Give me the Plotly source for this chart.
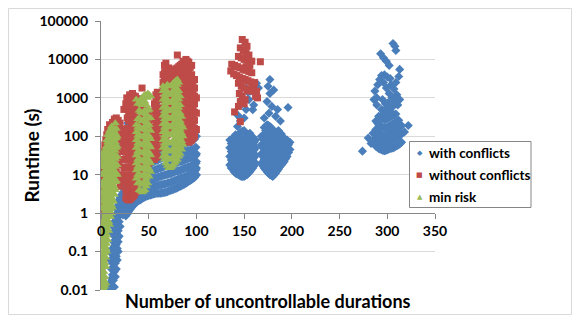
import plotly.graph_objects as go

# ---------------- data ----------------
# each entry: (number of uncontrollable durations, [runtimes in s at that x])
with_conflicts = [
    (8, [0.010, 0.013]), (10, [0.011, 0.016, 0.06]), (11, [0.02, 0.035, 0.09]),
    (12, [0.013, 0.025, 0.05, 0.12, 0.3]), (13, [0.018, 0.04, 0.08, 0.18, 0.45]),
    (14, [0.012, 0.03, 0.065, 0.14, 0.25, 0.6]), (15, [0.022, 0.05, 0.1, 0.2, 0.4, 0.9]),
    (16, [0.035, 0.075, 0.15, 0.3, 0.7, 1.3]), (17, [0.06, 0.12, 0.22, 0.5, 1.0]),
    (18, [0.1, 0.18, 0.35, 0.8, 1.6]), (19, [0.25, 0.6, 1.2, 2.2]), (20, [0.45, 0.9]),
    (20, [1.0, 1.6, 2.6]), (23, [0.9, 1.4, 2.2, 3.5]), (26, [0.85, 1.3, 2.0, 3.2, 5]),
    (29, [1.1, 1.7, 2.7, 4.3, 6.5]), (32, [1.4, 2.2, 3.4, 5.4, 8]),
    (35, [1.7, 2.6, 4.0, 6.3, 9.5]), (38, [2.0, 3.0, 4.6, 7, 11]),
    (41, [2.2, 3.4, 5.2, 8, 12.5]), (44, [2.5, 3.8, 5.8, 9, 14]),
    (47, [2.7, 4.1, 6.3, 10, 16]), (50, [2.9, 4.4, 7, 11, 18]),
    (53, [3.0, 4.7, 7.5, 12, 20]), (56, [3.2, 5.0, 8, 13, 22, 30]),
    (59, [3.3, 5.2, 8.5, 14, 24, 35]), (62, [3.3, 5.4, 9, 15, 26, 42]),
    (65, [3.4, 5.6, 9.5, 16, 28, 48]), (68, [3.5, 5.8, 10, 17, 30, 52]),
    (71, [3.8, 6.2, 10.5, 18, 32, 55]), (74, [4.0, 6.5, 11, 19, 33, 55]),
    (77, [4.3, 7, 12, 20, 35, 58]), (80, [4.6, 7.5, 12.5, 21, 36, 60]),
    (83, [5.0, 8, 13, 22, 37, 62]), (86, [5.5, 8.5, 14, 23, 38, 62]),
    (89, [6.0, 9, 15, 25, 40, 65]), (92, [6.8, 10, 16, 27, 42, 70]),
    (95, [7.5, 11, 17, 28, 45, 75]), (98, [8.5, 12, 18, 30, 48, 85]),
    (100, [10, 15, 22, 35]),
    (21.5, [1.2, 1.9, 3]), (24.5, [1.1, 1.7, 2.6, 4.2]), (27.5, [0.95, 1.5, 2.4, 3.8, 5.8]),
    (30.5, [1.25, 2.0, 3.1, 4.9, 7.3]), (33.5, [1.55, 2.4, 3.7, 5.8, 8.8]),
    (36.5, [1.85, 2.8, 4.3, 6.6, 10]), (39.5, [2.1, 3.2, 4.9, 7.5, 11.8]),
    (42.5, [2.35, 3.6, 5.5, 8.5, 13.2]), (45.5, [2.6, 3.9, 6.0, 9.5, 15]),
    (48.5, [2.8, 4.3, 6.6, 10.5, 17]), (51.5, [2.95, 4.5, 7.2, 11.5, 19]),
    (54.5, [3.1, 4.8, 7.7, 12.5, 21, 27]), (57.5, [3.25, 5.1, 8.2, 13.5, 23, 32]),
    (60.5, [3.3, 5.3, 8.7, 14.5, 25, 38]), (63.5, [3.35, 5.5, 9.2, 15.5, 27, 45]),
    (66.5, [3.45, 5.7, 9.7, 16.5, 29, 50]), (69.5, [3.6, 6.0, 10.2, 17.5, 31, 53]),
    (72.5, [3.9, 6.3, 10.7, 18.5, 32, 55]), (75.5, [4.1, 6.7, 11.5, 19.5, 34, 56]),
    (78.5, [4.4, 7.2, 12.2, 20.5, 35, 59]), (81.5, [4.8, 7.7, 12.7, 21.5, 36.5, 61]),
    (84.5, [5.2, 8.2, 13.5, 22.5, 37.5, 62]), (87.5, [5.7, 8.7, 14.5, 24, 39, 63]),
    (90.5, [6.4, 9.5, 15.5, 26, 41, 67]), (93.5, [7.1, 10.5, 16.5, 27.5, 43, 72]),
    (96.5, [8, 11.5, 17.5, 29, 46, 80]), (99.5, [9.5, 13.5, 20, 32, 52]),
    (15, [18]), (20, [53]), (28, [220]), (57, [600]), (58, [750, 300]), (60, [420, 170]),
    (62, [230]), (64, [80]), (93, [170]), (98, [120]), (100, [100]),
    (135, [18, 30, 50, 80]), (138, [14, 22, 35, 55, 90]), (141, [11, 18, 28, 45, 70, 110]),
    (144, [10, 15, 24, 38, 60, 95]), (147, [9, 13, 20, 32, 50, 80, 130]),
    (150, [9, 14, 22, 35, 55, 85, 140]), (153, [10, 16, 25, 40, 65, 100]),
    (156, [12, 19, 30, 48, 75, 120]), (159, [15, 24, 38, 60, 95]), (162, [20, 32, 50, 80]),
    (136.5, [15, 24, 40, 65]), (139.5, [12, 19, 30, 48, 78]),
    (142.5, [10.5, 16, 26, 42, 65, 100]), (145.5, [9.5, 14, 22, 35, 55, 88, 120]),
    (148.5, [9, 13.5, 21, 33, 52, 82, 135]), (151.5, [9.5, 15, 23, 37, 60, 92]),
    (154.5, [11, 17.5, 27, 44, 70, 110]), (157.5, [13.5, 21, 34, 54, 85]),
    (160.5, [17, 28, 44, 70]),
    (143, [180, 360]), (146, [250, 300]), (150, [300]), (152, [500, 1800]), (148, [700]),
    (155, [900]), (157, [1500]), (159, [490]), (160, [650]), (163, [1100, 2400]),
    (154, [1400]), (165, [1800]),
    (168, [20, 35, 60, 100]), (171, [15, 25, 40, 65, 110, 170]),
    (174, [12, 19, 30, 48, 75, 120, 200]), (177, [10, 16, 26, 42, 68, 110, 180]),
    (180, [9, 14, 23, 37, 60, 95, 150]), (183, [11, 18, 29, 46, 75, 120]),
    (186, [14, 22, 35, 56, 90, 140]), (189, [18, 28, 45, 72, 115]),
    (192, [22, 35, 55, 90]), (195, [30, 50, 80]), (198, [45, 70]),
    (169.5, [17, 30, 50, 85]), (172.5, [13.5, 22, 35, 56, 90, 140]),
    (175.5, [11, 17.5, 28, 45, 72, 115, 190]), (178.5, [9.5, 15, 24.5, 40, 64, 100, 165]),
    (181.5, [10, 16, 26, 41, 68, 108]), (184.5, [12.5, 20, 32, 51, 82, 130]),
    (187.5, [16, 25, 40, 64, 100]), (190.5, [20, 31, 50, 80]), (193.5, [26, 42, 68]),
    (196.5, [38, 60]),
    (177, [3000, 1300]), (175, [2000]), (181, [1600]), (174, [800]), (179, [600]),
    (185, [500]), (176, [400]), (183, [330]), (196, [560]), (171, [300]), (188, [250]),
    (274, [41]), (280, [90]), (283, [65]),
    (285, [70, 120]), (288, [55, 90, 150, 250]), (291, [48, 75, 120, 200, 330]),
    (294, [45, 70, 110, 180, 300, 500]), (297, [42, 65, 100, 165, 270, 450]),
    (300, [45, 70, 110, 175, 290, 480]), (303, [48, 75, 120, 190, 320, 550]),
    (306, [50, 80, 130, 210, 350, 600]), (309, [55, 90, 145, 230, 380]),
    (312, [60, 100, 160, 260]), (315, [70, 115, 190]), (318, [130]), (322, [190]),
    (289.5, [52, 82, 135, 225]), (292.5, [46, 72, 115, 190, 310]),
    (295.5, [43, 68, 105, 170, 285, 470]), (298.5, [43, 67, 105, 170, 280]),
    (301.5, [46, 72, 115, 180, 300, 510]), (304.5, [49, 78, 125, 200, 335]),
    (307.5, [52, 85, 137, 220, 365]), (310.5, [58, 95, 152, 245]), (313.5, [65, 108, 175]),
    (286, [900]), (289, [650, 1000]), (287, [1500]), (290, [2200]), (292, [3000]),
    (294, [3800]), (297, [4000]), (300, [3500]), (303, [3200]), (296, [2500, 400]),
    (299, [1800]), (302, [1300]), (305, [1000]), (308, [800]), (311, [650]),
    (304, [2200, 420]), (307, [1700]), (310, [1200]), (313, [900, 5500]), (309, [2500]),
    (312, [3600]), (298, [700]), (295, [900]), (301, [750, 380]),
    (293, [14000]), (296, [11000]), (299, [9000]), (302, [7000]),
    (306, [26000]), (308, [22000]), (309, [17000]),
]

without_conflicts = [
    (1, [0.012, 0.03, 0.15, 1.0, 3.5]), (2, [0.018, 0.08, 0.4, 2.5, 5]), (3, [0.05, 0.25, 1.5]),
    (4, [0.6, 4]),
    (1, [8, 18]), (2, [12, 40]), (3, [25]), (4, [60]), (5, [80]), (6, [40, 110]), (7, [150]),
    (8, [70]), (9, [200]), (10, [140]), (11, [90]), (12, [230, 12]), (13, [170]),
    (14, [280, 25]), (15, [60]), (16, [300, 12]), (17, [180, 35]), (18, [260, 8]),
    (19, [120, 18]), (20, [220, 40, 5]), (21, [80, 10]), (22, [150, 25]), (23, [60, 7]),
    (24, [100, 15, 500]),
    (26, [2.5, 4, 6.5, 10, 16, 26, 40, 65, 100, 700]), (27, [1000]),
    (29, [2.2, 3.5, 5.5, 9, 15, 24, 38, 60, 95, 150, 250, 400]), (30, [1200]),
    (32, [2.5, 4, 6.5, 10, 16, 26, 42, 68, 110, 175, 280, 450, 700, 1000]), (33, [1300]),
    (35, [3, 5, 8, 13, 20, 32, 52, 85, 135, 215, 350, 550, 850]), (36, [1100]),
    (38, [4, 6.5, 10, 16, 26, 42, 68, 110, 175, 280, 450, 700]),
    (41, [8, 13, 21, 34, 55, 90, 145, 230, 370, 600, 950]), (43, [1800]),
    (44, [12, 20, 32, 52, 85, 140, 225, 360, 580, 900]),
    (47, [15, 25, 40, 65, 105, 170, 280, 450]), (50, [20, 32, 52, 85, 140, 230, 380]),
    (53, [25, 40, 65, 105, 170, 280]),
    (27.5, [2.3, 3.7, 6, 9.5, 15.5, 25, 39, 62, 98, 160, 300, 550]),
    (30.5, [2.3, 3.7, 6, 9.5, 15.5, 25, 40, 64, 102, 160, 265, 425, 800]),
    (33.5, [2.7, 4.5, 7.2, 11.5, 18, 29, 47, 76, 122, 195, 315, 500, 775, 1150]),
    (36.5, [3.5, 5.7, 9, 14.5, 23, 37, 60, 97, 155, 245, 400, 625, 950]),
    (39.5, [6, 9.5, 15, 24, 38, 61, 98, 155, 250, 400, 650]),
    (56, [25, 40, 65, 105, 170, 280, 450, 700]),
    (59, [30, 50, 80, 130, 210, 340, 550, 900, 1400]),
    (62, [50, 80, 130, 210, 340]),
    (65, [80, 130, 210, 340, 550, 900, 1500, 2500, 4000]),
    (68, [100, 160, 260, 420, 700, 1100, 1800, 3000, 5000, 8000]),
    (71, [120, 200, 320, 520, 850, 1400, 2300, 3700, 6000]),
    (74, [150, 250, 400, 650, 1050, 1700, 2800, 4500]),
    (77, [180, 300, 480, 780, 1250, 2000, 3300, 5400]),
    (80, [200, 330, 530, 860, 1400, 2300, 3700, 6000, 13000]),
    (83, [250, 400, 650, 1050, 1700, 2800, 4500, 7000]),
    (86, [120, 200, 330, 530, 860, 1400, 2300, 3700, 6000, 9000]),
    (89, [80, 130, 210, 340, 550, 900, 1500, 2400, 3900, 6500, 10000]),
    (92, [70, 110, 180, 290, 470, 760, 1200, 2000, 3300, 5400, 8500]),
    (95, [80, 130, 210, 340, 550, 900, 1500, 2400, 4000, 7000]),
    (98, [100, 160, 260, 420, 700, 1100, 1800, 3000]), (100, [150, 400, 1000]),
    (57.5, [28, 45, 72, 115, 190, 310, 500, 800, 1200]),
    (66.5, [90, 145, 235, 380, 620, 1000, 1650, 2700, 4500, 7000]),
    (69.5, [110, 180, 290, 470, 770, 1250, 2000, 3300, 5500]),
    (72.5, [135, 225, 360, 590, 950, 1550, 2550, 4100]),
    (75.5, [165, 275, 440, 715, 1150, 1850, 3050, 4900]),
    (78.5, [190, 315, 505, 820, 1320, 2150, 3500, 5700]),
    (81.5, [225, 365, 590, 955, 1550, 2550, 4100, 6500]),
    (84.5, [160, 260, 420, 680, 1100, 1800, 2900, 4700, 7500]),
    (87.5, [100, 165, 270, 435, 700, 1150, 1850, 3000, 4900, 7800]),
    (90.5, [75, 120, 195, 315, 510, 830, 1350, 2200, 3600, 6000, 9000]),
    (93.5, [75, 120, 195, 315, 510, 830, 1350, 2200, 3650, 6200]),
    (96.5, [90, 145, 235, 380, 620, 1000, 1650, 2700]),
    (148, [33000, 3200, 1100]), (151, [28000, 3000, 900]), (153, [22000, 1600]),
    (146, [20000, 6000, 800, 240]), (149, [17000, 5500]), (152, [15000, 5200, 6500]),
    (155, [13000, 4800]), (144, [12000, 2400, 600]), (147, [11000, 2000]),
    (150, [10000, 1800, 700]), (154, [9500, 2800]), (158, [9000, 4500, 2200]),
    (167, [8700]), (137, [7500]), (140, [7000, 430]), (143, [6500]), (136, [5000]),
    (139, [4200]), (142, [3800]), (145, [3500, 1300]), (157, [2600]), (156, [1500, 7000]),
    (160, [1800]), (163, [1500]), (162, [1100]), (164, [1000]), (161, [2500]),
]

min_risk = [
    (1, [0.010, 0.014, 0.02, 0.03, 0.05, 0.08, 0.13, 0.2, 0.35, 3, 5, 20, 35]),
    (3, [0.012, 0.018, 0.03, 0.06, 0.1, 0.16, 0.25, 0.4, 0.65, 1.0, 1.6, 2.5, 4, 7, 12, 25]),
    (5, [0.015, 0.04, 0.07, 0.12, 0.2, 0.3, 0.5, 0.8, 1.3, 2, 3.2, 5, 8, 13, 20, 32, 50]),
    (7, [0.2, 0.35, 0.6, 1.0, 1.6, 2.6, 4, 6.5, 10, 16, 26, 42, 70, 110]),
    (9, [0.5, 0.8, 1.3, 2, 3.2, 5, 8, 13, 20, 32, 52, 85, 140]),
    (11, [1, 1.6, 2.6, 4, 6.5, 10, 16, 26, 42, 68, 110, 180]),
    (13, [2, 3.2, 5, 8, 13, 21, 34, 55, 90, 150]),
    (15, [4, 6.5, 10, 16, 26, 42, 70, 120, 220]),
    (17, [10, 18, 30, 55, 100]),
    (2, [0.011, 0.016, 0.025, 0.04, 0.065, 0.1, 0.17, 0.28, 0.5, 0.8, 1.3, 2, 3.5, 6, 10, 16, 30]),
    (4, [0.013, 0.022, 0.05, 0.09, 0.14, 0.22, 0.35, 0.55, 0.9, 1.4, 2.2, 3.5, 6, 10, 16, 26, 40]),
    (6, [0.1, 0.16, 0.26, 0.42, 0.7, 1.1, 1.8, 3, 5, 8, 13, 20, 33, 55, 80]),
    (8, [0.35, 0.6, 1, 1.6, 2.5, 4, 6.5, 10, 16, 26, 42, 68, 110]),
    (10, [0.8, 1.3, 2, 3.2, 5, 8, 13, 20, 33, 55, 90, 150]),
    (12, [1.4, 2.2, 3.6, 5.8, 9.5, 15, 24, 40, 65, 110, 170]),
    (14, [3, 4.8, 7.5, 12, 19, 30, 50, 85, 150]),
    (16, [7, 11, 18, 30, 50, 90, 160]),
    (37, [8, 13, 20, 32, 50, 80, 130, 200, 900]),
    (40, [4, 6.5, 10, 16, 26, 42, 68, 110, 180, 290, 470, 750]),
    (43, [3.5, 5.5, 9, 14, 22, 36, 58, 95, 150, 250, 400, 650, 1000]),
    (46, [4, 6.5, 10, 16, 26, 42, 68, 110, 180, 290, 470, 800, 1200]),
    (49, [6, 10, 16, 26, 42, 68, 110, 180, 290, 470, 1000, 1300]),
    (52, [12, 20, 32, 52, 85, 140, 300, 1100]),
    (38.5, [6, 10, 16, 25, 40, 65, 105, 170, 280, 700]),
    (41.5, [3.8, 6, 9.5, 15, 24, 38, 62, 100, 165, 270, 430, 700, 900]),
    (44.5, [3.7, 6, 9.5, 15, 24, 39, 63, 100, 165, 270, 430, 720, 1100]),
    (47.5, [5, 8, 13, 21, 34, 55, 88, 145, 235, 380, 650, 1100]),
    (50.5, [9, 14, 23, 37, 60, 100, 200, 500, 1200]),
    (65, [30, 50, 80, 130, 210, 340, 550, 900, 1500, 2000]),
    (68, [20, 32, 52, 85, 140, 230, 370, 600, 1000, 1600]),
    (71, [15, 25, 40, 65, 105, 170, 280, 450, 750, 1200, 2000]),
    (74, [16, 26, 42, 68, 110, 180, 290, 470, 760, 1250, 2100]),
    (77, [20, 32, 52, 85, 140, 230, 370, 600, 1000, 1700, 2600]),
    (80, [25, 40, 65, 105, 170, 280, 450, 750, 1250, 2200, 3000]),
    (83, [35, 55, 90, 150, 250, 400, 650, 1100]),
    (86, [60, 100, 170]),
    (66.5, [25, 40, 65, 105, 170, 280, 450, 750, 1200, 1800]),
    (69.5, [17, 28, 45, 75, 120, 200, 320, 520, 850, 1400, 2200]),
    (72.5, [15, 25, 41, 66, 108, 175, 285, 460, 750, 1220, 2000]),
    (75.5, [18, 29, 47, 76, 125, 205, 330, 535, 880, 1450, 2400]),
    (78.5, [22, 36, 58, 95, 155, 255, 410, 680, 1120, 1900, 2800]),
    (81.5, [30, 47, 77, 125, 205, 340, 550, 920, 1500, 2500]),
    (84.5, [45, 75, 120, 200, 320]),
]

series_names = ["with conflicts", "without conflicts", "min risk"]
x_ticks = [0, 50, 100, 150, 200, 250, 300, 350]
y_ticks = [0.01, 0.1, 1, 10, 100, 1000, 10000, 100000]
y_tick_text = ["0.01", "0.1", "1", "10", "100", "1000", "10000", "100000"]


def expand(cols):
    xs = [x for x, ys in cols for _ in ys]
    ys_ = [y for _, ys in cols for y in ys]
    return xs, ys_


COLORS = ["#4A7EBB", "#BE4B48", "#98B954"]
SYMBOLS = ["diamond", "square", "triangle-up"]
SIZES = [7, 7, 8]
GLYPHS = ["\u25C6", "\u25A0", "\u25B2"]

fig = go.Figure()
for name, cols, c, s, sz in zip(series_names, [with_conflicts, without_conflicts, min_risk],
                                COLORS, SYMBOLS, SIZES):
    xs, ys = expand(cols)
    fig.add_trace(go.Scatter(x=xs, y=ys, mode="markers", name=name, showlegend=False,
                             marker=dict(color=c, symbol=s, size=sz, line=dict(width=0))))

W, H = 579, 322
L, R, T, B = 101, 144, 21, 32
pw, ph = W - L - R, H - T - B


def px_x(p):
    return (p - L) / pw


def px_y(p):
    return (H - B - p) / ph


FONT = "Lato"
TICKFONT = dict(family=FONT, size=14, color="black", weight="bold")
fig.update_layout(
    width=W, height=H, margin=dict(l=L, r=R, t=T, b=B, pad=0),
    paper_bgcolor="white", plot_bgcolor="white", showlegend=False,
    xaxis=dict(range=[0, 350], tickvals=x_ticks, ticktext=[str(v) for v in x_ticks],
               anchor="free", position=2 / 7, showgrid=False, zeroline=False,
               showline=True, linecolor="#868686", linewidth=1,
               ticks="outside", ticklen=5, tickcolor="#868686",
               tickfont=TICKFONT),
    yaxis=dict(type="log", range=[-2, 5], tickvals=y_ticks, ticktext=y_tick_text,
               showgrid=True, gridcolor="#D9D9D9", zeroline=False,
               showline=True, linecolor="#868686", linewidth=1,
               ticks="outside", ticklen=5, tickcolor="#868686", ticklabelstandoff=4,
               tickfont=TICKFONT),
)

annotations = [
    dict(text="<b>Number of uncontrollable durations</b>", x=px_x(268), y=px_y(301),
         xref="paper", yref="paper", xanchor="center", yanchor="middle", showarrow=False,
         font=dict(family=FONT, size=18, color="black")),
    dict(text="<b>Runtime (s)</b>", x=px_x(31), y=0.5, textangle=-90,
         xref="paper", yref="paper", xanchor="center", yanchor="middle", showarrow=False,
         font=dict(family=FONT, size=19, color="black")),
]
# legend drawn as text
leg_rows = [153, 175, 197]
for name, c, g, row in zip(series_names, COLORS, GLYPHS, leg_rows):
    annotations.append(dict(text=g, x=px_x(419.5), y=px_y(row), xref="paper", yref="paper",
                            xanchor="center", yanchor="middle", showarrow=False,
                            font=dict(family="DejaVu Sans", size=7, color=c)))
    annotations.append(dict(text="<b>" + name + "</b>", x=px_x(427), y=px_y(row),
                            xref="paper", yref="paper", xanchor="left", yanchor="middle",
                            showarrow=False, font=dict(family=FONT, size=13.5, color="black")))
fig.update_layout(annotations=annotations)

shapes = [
    dict(type="rect", xref="paper", yref="paper", x0=px_x(409.5), x1=px_x(531),
         y0=px_y(207.5), y1=px_y(141.5), line=dict(color="#868686", width=1),
         fillcolor="white", layer="above"),
    dict(type="rect", xref="paper", yref="paper", x0=px_x(8.5), x1=px_x(571.5),
         y0=px_y(314.5), y1=px_y(8.5), line=dict(color="#D9D9D9", width=1),
         fillcolor="rgba(0,0,0,0)", layer="below"),
]
fig.update_layout(shapes=shapes)

fig.write_html("out.html", config={"displayModeBar": False},
               post_script="document.body.style.margin='0px';")
